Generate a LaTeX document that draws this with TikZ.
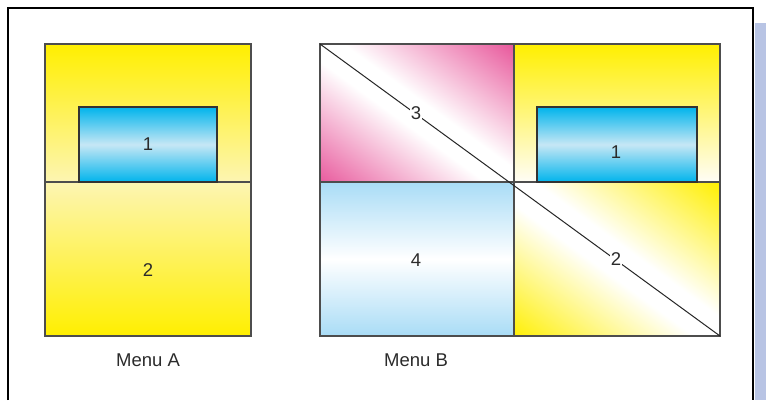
\documentclass[tikz,border=0pt]{standalone}
\usepackage{fontspec}
\setmainfont{Liberation Sans}
\definecolor{yel}{HTML}{FFEF00}
\definecolor{paley}{HTML}{FDF5B2}
\definecolor{nearw}{HTML}{FFFDF6}
\definecolor{cyanb}{HTML}{00B4EC}
\definecolor{cyanl}{HTML}{C6E7F5}
\definecolor{lblue}{HTML}{A9DCF6}
\definecolor{pk}{HTML}{E8579B}
\definecolor{lav}{HTML}{B8C4E4}
\definecolor{edge}{HTML}{4D4D4D}
\definecolor{txt}{HTML}{2B2B2B}
\pgfdeclarehorizontalshading{pinkdiag}{100bp}{color(0bp)=(pk); color(25bp)=(pk); color(47bp)=(white); color(53bp)=(white); color(75bp)=(pk); color(100bp)=(pk)}
\pgfdeclarehorizontalshading{yeldiag}{100bp}{color(0bp)=(yel); color(25bp)=(yel); color(47bp)=(white); color(53bp)=(white); color(75bp)=(yel); color(100bp)=(yel)}
\begin{document}
\begin{tikzpicture}[x=1pt,y=-1pt,
  cellbox/.style={draw=edge,line width=1.15pt},
  innerbox/.style={draw=black!80,line width=1.1pt,top color=cyanb,bottom color=cyanb,middle color=cyanl},
  lbl/.style={text=txt,font=\fontsize{18.5}{20}\selectfont,inner sep=1pt},
  wlbl/.style={lbl,fill=white},
  frameline/.style={draw=black,line width=1.3pt}]
\useasboundingbox (0,0) rectangle (766,400);

% frame
\coordinate (fbl) at (8,400);
\coordinate (ftl) at (8,8);
\coordinate (ftr) at (753,8);
\coordinate (fbr) at (753,400);
\fill[lav] (755,23) rectangle (766,400);
\draw[frameline] (fbl) -- (ftl) -- (ftr) -- (fbr);

% ---------- Menu A ----------
\coordinate (Atl) at (45,44);
\coordinate (Aml) at (45,182);
\coordinate (Amr) at (251,182);
\coordinate (Abr) at (251,336);
\coordinate (Atr) at (251,44);
\shade[top color=yel,bottom color=paley] (Atl) rectangle (Amr);
\shade[top color=paley,bottom color=yel] (Aml) rectangle (Abr);
\draw[cellbox] (Atl) rectangle (Abr);
\draw[cellbox] (Aml) -- (Amr);
\draw[innerbox] (79,107) rectangle (217,182);
\node[lbl] (a1) at (148,144) {1};
\node[lbl] (a2) at (148,270) {2};
\node[lbl] (ma) at (148,360) {Menu A};

% ---------- Menu B ----------
\coordinate (Btl) at (320,44);
\coordinate (Btm) at (514,44);
\coordinate (Btr) at (720,44);
\coordinate (Bml) at (320,182);
\coordinate (Bmm) at (514,182);
\coordinate (Bmr) at (720,182);
\coordinate (Bbl) at (320,336);
\coordinate (Bbm) at (514,336);
\coordinate (Bbr) at (720,336);

% pink cell (3)
\begin{scope}
  \clip (Btl) rectangle (Bmm);
  \begin{scope}[transform canvas={shift={(417,114.8)},rotate=53.9}]
    \shade[shading=pinkdiag] (-114pt,-124pt) rectangle (114pt,124pt);
  \end{scope}
\end{scope}
% yellow diagonal cell (2)
\begin{scope}
  \clip (Bmm) rectangle (Bbr);
  \begin{scope}[transform canvas={shift={(617,260.8)},rotate=53.9}]
    \shade[shading=yeldiag] (-124pt,-132pt) rectangle (124pt,132pt);
  \end{scope}
\end{scope}
% top-right yellow cell
\shade[top color=yel,bottom color=nearw] (Btm) rectangle (Bmr);
% cell 4
\shade[top color=lblue,bottom color=lblue,middle color=white] (Bml) rectangle (Bbm);

\draw[cellbox] (Btl) rectangle (Bbr);
\draw[cellbox] (Bml) -- (Bmr);
\draw[cellbox] (Btm) -- (Bbm);
\draw[innerbox] (537,107) rectangle (697,182);

\draw[black!85,line width=1pt] (Btl) -- (Bbr);

\node[wlbl] (b3) at (416,113) {3};
\node[wlbl] (b2) at (616,259) {2};
\node[lbl] (b1) at (616,152) {1};
\node[lbl] (b4) at (416,260) {4};
\node[lbl] (mb) at (416,360) {Menu B};
\end{tikzpicture}
\end{document}
